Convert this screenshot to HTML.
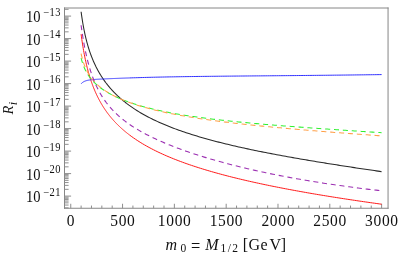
<!DOCTYPE html>
<html>
<head>
<meta charset="utf-8">
<title>plot</title>
<style>
html,body{margin:0;padding:0;background:#ffffff;}
body{width:399px;height:255px;overflow:hidden;font-family:"Liberation Serif",serif;}
svg{display:block;position:absolute;left:0;top:0;will-change:transform;}
text{font-family:"Liberation Serif",serif;fill:#111111;}
</style>
</head>
<body>
<svg width="399" height="255" viewBox="0 0 399 255">
<rect x="0" y="0" width="399" height="255" fill="#ffffff"/>
<g id="plot">
<path d="M64.5,8.0H388.05M388.05,8.0V208.25M64.5,208.25H388.05M64.5,8.0V208.25" fill="none" stroke="#868686" stroke-width="1" stroke-linecap="square"/>
<path d="M70.75,208.25V203.75M81.11,208.25V205.55M91.47,208.25V205.55M101.84,208.25V205.55M112.20,208.25V205.55M122.56,208.25V203.75M132.92,208.25V205.55M143.28,208.25V205.55M153.65,208.25V205.55M164.01,208.25V205.55M174.37,208.25V203.75M184.73,208.25V205.55M195.09,208.25V205.55M205.46,208.25V205.55M215.82,208.25V205.55M226.18,208.25V203.75M236.54,208.25V205.55M246.90,208.25V205.55M257.27,208.25V205.55M267.63,208.25V205.55M277.99,208.25V203.75M288.35,208.25V205.55M298.71,208.25V205.55M309.08,208.25V205.55M319.44,208.25V205.55M329.80,208.25V203.75M340.16,208.25V205.55M350.52,208.25V205.55M360.89,208.25V205.55M371.25,208.25V205.55M381.61,208.25V203.75M64.5,207.86H68.60M64.5,205.05H68.60M64.5,202.87H68.60M64.5,201.09H68.60M64.5,199.59H68.60M64.5,198.28H68.60M64.5,197.13H68.60M64.5,196.10H71.10M64.5,189.33H68.60M64.5,185.36H68.60M64.5,182.55H68.60M64.5,180.37H68.60M64.5,178.59H68.60M64.5,177.09H68.60M64.5,175.78H68.60M64.5,174.63H68.60M64.5,173.60H71.10M64.5,166.83H68.60M64.5,162.86H68.60M64.5,160.05H68.60M64.5,157.87H68.60M64.5,156.09H68.60M64.5,154.59H68.60M64.5,153.28H68.60M64.5,152.13H68.60M64.5,151.10H71.10M64.5,144.33H68.60M64.5,140.36H68.60M64.5,137.55H68.60M64.5,135.37H68.60M64.5,133.59H68.60M64.5,132.09H68.60M64.5,130.78H68.60M64.5,129.63H68.60M64.5,128.60H71.10M64.5,121.83H68.60M64.5,117.86H68.60M64.5,115.05H68.60M64.5,112.87H68.60M64.5,111.09H68.60M64.5,109.59H68.60M64.5,108.28H68.60M64.5,107.13H68.60M64.5,106.10H71.10M64.5,99.33H68.60M64.5,95.36H68.60M64.5,92.55H68.60M64.5,90.37H68.60M64.5,88.59H68.60M64.5,87.09H68.60M64.5,85.78H68.60M64.5,84.63H68.60M64.5,83.60H71.10M64.5,76.83H68.60M64.5,72.86H68.60M64.5,70.05H68.60M64.5,67.87H68.60M64.5,66.09H68.60M64.5,64.59H68.60M64.5,63.28H68.60M64.5,62.13H68.60M64.5,61.10H71.10M64.5,54.33H68.60M64.5,50.36H68.60M64.5,47.55H68.60M64.5,45.37H68.60M64.5,43.59H68.60M64.5,42.09H68.60M64.5,40.78H68.60M64.5,39.63H68.60M64.5,38.60H71.10M64.5,31.83H68.60M64.5,27.86H68.60M64.5,25.05H68.60M64.5,22.87H68.60M64.5,21.09H68.60M64.5,19.59H68.60M64.5,18.28H68.60M64.5,17.13H68.60M64.5,16.10H71.10M64.5,9.33H68.60" fill="none" stroke="#8e8e8e" stroke-width="1"/>
<path d="M81.11,11.78 L81.46,14.37 L81.82,16.83 L82.17,19.16 L82.52,21.37 L82.87,23.48 L83.22,25.49 L83.57,27.41 L83.93,29.24 L84.28,31.00 L84.63,32.69 L84.98,34.32 L85.33,35.88 L85.68,37.38 L86.04,38.83 L86.39,40.23 L86.74,41.59 L87.09,42.90 L87.44,44.17 L87.79,45.40 L88.15,46.59 L88.50,47.75 L88.85,48.88 L89.20,49.98 L89.55,51.04 L89.90,52.08 L90.26,53.09 L90.61,54.08 L90.96,55.04 L91.31,55.98 L91.66,56.90 L92.02,57.79 L92.37,58.67 L92.72,59.53 L93.07,60.37 L93.42,61.19 L93.77,61.99 L94.13,62.78 L94.48,63.55 L94.83,64.31 L95.18,65.05 L95.53,65.78 L95.88,66.50 L96.24,67.20 L96.59,67.89 L96.94,68.57 L97.29,69.24 L97.64,69.90 L97.99,70.54 L98.35,71.17 L98.70,71.80 L99.05,72.41 L99.40,73.02 L99.75,73.61 L100.10,74.20 L100.46,74.78 L100.81,75.35 L101.16,75.91 L101.51,76.46 L101.86,77.01 L102.21,77.54 L102.57,78.07 L102.92,78.60 L103.27,79.11 L103.62,79.62 L103.97,80.12 L104.33,80.62 L104.68,81.11 L105.03,81.59 L105.38,82.07 L105.73,82.54 L106.08,83.01 L106.44,83.47 L106.79,83.92 L107.14,84.37 L107.49,84.82 L107.84,85.26 L108.19,85.69 L108.55,86.12 L108.90,86.54 L109.25,86.96 L109.60,87.38 L109.95,87.79 L110.30,88.20 L110.66,88.60 L111.01,89.00 L111.36,89.39 L111.71,89.78 L112.06,90.17 L112.41,90.55 L112.77,90.93 L113.12,91.30 L113.47,91.67 L113.82,92.04 L114.17,92.40 L114.52,92.76 L114.88,93.12 L115.23,93.47 L115.58,93.82 L115.93,94.17 L116.28,94.51 L116.63,94.85 L116.99,95.19 L117.34,95.52 L117.69,95.86 L118.04,96.18 L118.39,96.51 L118.75,96.83 L119.10,97.15 L119.45,97.47 L119.80,97.79 L120.15,98.10 L120.50,98.41 L120.86,98.71 L121.21,99.02 L121.56,99.32 L121.91,99.62 L122.26,99.92 L122.61,100.21 L122.97,100.50 L123.32,100.79 L123.67,101.08 L124.02,101.37 L124.37,101.65 L124.72,101.93 L125.08,102.21 L125.43,102.49 L125.78,102.76 L126.13,103.03 L126.48,103.31 L126.83,103.57 L127.19,103.84 L127.54,104.11 L127.89,104.37 L128.24,104.63 L128.59,104.89 L128.94,105.15 L129.30,105.40 L129.65,105.66 L130.00,105.91 L131.81,107.18 L133.62,108.41 L135.43,109.59 L137.24,110.74 L139.05,111.85 L140.86,112.93 L142.67,113.98 L144.48,115.00 L146.29,115.99 L148.10,116.95 L149.91,117.88 L151.72,118.79 L153.53,119.68 L155.34,120.55 L157.15,121.39 L158.96,122.22 L160.77,123.02 L162.58,123.81 L164.39,124.58 L166.20,125.33 L168.01,126.07 L169.82,126.79 L171.63,127.50 L173.44,128.19 L175.25,128.87 L177.06,129.53 L178.87,130.19 L180.68,130.83 L182.49,131.46 L184.30,132.07 L186.11,132.68 L187.92,133.28 L189.73,133.86 L191.54,134.44 L193.36,135.01 L195.17,135.57 L196.98,136.12 L198.79,136.66 L200.60,137.19 L202.41,137.72 L204.22,138.23 L206.03,138.74 L207.84,139.25 L209.65,139.74 L211.46,140.23 L213.27,140.71 L215.08,141.19 L216.89,141.66 L218.70,142.13 L220.51,142.58 L222.32,143.04 L224.13,143.48 L225.94,143.93 L227.75,144.36 L229.56,144.80 L231.37,145.22 L233.18,145.65 L234.99,146.06 L236.80,146.48 L238.61,146.89 L240.42,147.29 L242.23,147.69 L244.04,148.09 L245.85,148.49 L247.66,148.87 L249.47,149.26 L251.28,149.64 L253.09,150.02 L254.90,150.40 L256.71,150.77 L258.52,151.14 L260.33,151.51 L262.14,151.87 L263.95,152.23 L265.76,152.59 L267.57,152.94 L269.38,153.29 L271.19,153.64 L273.00,153.99 L274.81,154.33 L276.62,154.67 L278.43,155.01 L280.24,155.35 L282.05,155.68 L283.86,156.01 L285.67,156.34 L287.48,156.67 L289.29,156.99 L291.10,157.32 L292.91,157.64 L294.72,157.96 L296.53,158.27 L298.34,158.59 L300.15,158.90 L301.96,159.22 L303.77,159.53 L305.58,159.83 L307.39,160.14 L309.20,160.45 L311.01,160.75 L312.82,161.05 L314.63,161.35 L316.44,161.65 L318.25,161.95 L320.07,162.25 L321.88,162.54 L323.69,162.83 L325.50,163.13 L327.31,163.42 L329.12,163.71 L330.93,163.99 L332.74,164.28 L334.55,164.57 L336.36,164.85 L338.17,165.13 L339.98,165.42 L341.79,165.70 L343.60,165.98 L345.41,166.26 L347.22,166.54 L349.03,166.81 L350.84,167.09 L352.65,167.36 L354.46,167.64 L356.27,167.91 L358.08,168.18 L359.89,168.45 L361.70,168.73 L363.51,169.00 L365.32,169.26 L367.13,169.53 L368.94,169.80 L370.75,170.07 L372.56,170.33 L374.37,170.60 L376.18,170.86 L377.99,171.12 L379.80,171.39 L381.61,171.65" fill="none" stroke="#282828" stroke-width="1.05"/>
<path d="M81.11,34.16 L81.46,36.83 L81.82,39.36 L82.17,41.79 L82.52,44.10 L82.87,46.31 L83.22,48.44 L83.57,50.47 L83.93,52.43 L84.28,54.31 L84.63,56.13 L84.98,57.88 L85.33,59.56 L85.68,61.19 L86.04,62.77 L86.39,64.29 L86.74,65.77 L87.09,67.20 L87.44,68.59 L87.79,69.94 L88.15,71.25 L88.50,72.52 L88.85,73.76 L89.20,74.96 L89.55,76.13 L89.90,77.28 L90.26,78.39 L90.61,79.48 L90.96,80.54 L91.31,81.57 L91.66,82.58 L92.02,83.57 L92.37,84.54 L92.72,85.48 L93.07,86.40 L93.42,87.31 L93.77,88.19 L94.13,89.06 L94.48,89.91 L94.83,90.74 L95.18,91.56 L95.53,92.36 L95.88,93.14 L96.24,93.92 L96.59,94.67 L96.94,95.42 L97.29,96.15 L97.64,96.86 L97.99,97.57 L98.35,98.26 L98.70,98.94 L99.05,99.61 L99.40,100.27 L99.75,100.92 L100.10,101.56 L100.46,102.19 L100.81,102.80 L101.16,103.41 L101.51,104.01 L101.86,104.60 L102.21,105.19 L102.57,105.76 L102.92,106.33 L103.27,106.89 L103.62,107.44 L103.97,107.98 L104.33,108.51 L104.68,109.04 L105.03,109.56 L105.38,110.08 L105.73,110.58 L106.08,111.09 L106.44,111.58 L106.79,112.07 L107.14,112.55 L107.49,113.03 L107.84,113.50 L108.19,113.96 L108.55,114.42 L108.90,114.88 L109.25,115.33 L109.60,115.77 L109.95,116.21 L110.30,116.64 L110.66,117.07 L111.01,117.50 L111.36,117.92 L111.71,118.33 L112.06,118.74 L112.41,119.15 L112.77,119.55 L113.12,119.95 L113.47,120.34 L113.82,120.73 L114.17,121.12 L114.52,121.50 L114.88,121.88 L115.23,122.25 L115.58,122.62 L115.93,122.99 L116.28,123.35 L116.63,123.71 L116.99,124.07 L117.34,124.42 L117.69,124.77 L118.04,125.12 L118.39,125.47 L118.75,125.81 L119.10,126.14 L119.45,126.48 L119.80,126.81 L120.15,127.14 L120.50,127.47 L120.86,127.79 L121.21,128.11 L121.56,128.43 L121.91,128.74 L122.26,129.06 L122.61,129.37 L122.97,129.67 L123.32,129.98 L123.67,130.28 L124.02,130.58 L124.37,130.88 L124.72,131.17 L125.08,131.47 L125.43,131.76 L125.78,132.05 L126.13,132.33 L126.48,132.62 L126.83,132.90 L127.19,133.18 L127.54,133.46 L127.89,133.73 L128.24,134.01 L128.59,134.28 L128.94,134.55 L129.30,134.82 L129.65,135.08 L130.00,135.35 L131.81,136.68 L133.62,137.96 L135.43,139.20 L137.24,140.41 L139.05,141.57 L140.86,142.70 L142.67,143.80 L144.48,144.86 L146.29,145.90 L148.10,146.91 L149.91,147.89 L151.72,148.84 L153.53,149.78 L155.34,150.69 L157.15,151.57 L158.96,152.44 L160.77,153.29 L162.58,154.12 L164.39,154.93 L166.20,155.72 L168.01,156.50 L169.82,157.26 L171.63,158.01 L173.44,158.74 L175.25,159.46 L177.06,160.17 L178.87,160.86 L180.68,161.54 L182.49,162.21 L184.30,162.87 L186.11,163.52 L187.92,164.15 L189.73,164.78 L191.54,165.39 L193.36,166.00 L195.17,166.59 L196.98,167.18 L198.79,167.76 L200.60,168.33 L202.41,168.89 L204.22,169.45 L206.03,169.99 L207.84,170.53 L209.65,171.06 L211.46,171.59 L213.27,172.11 L215.08,172.62 L216.89,173.12 L218.70,173.62 L220.51,174.11 L222.32,174.60 L224.13,175.08 L225.94,175.55 L227.75,176.02 L229.56,176.49 L231.37,176.95 L233.18,177.40 L234.99,177.85 L236.80,178.29 L238.61,178.73 L240.42,179.17 L242.23,179.60 L244.04,180.02 L245.85,180.44 L247.66,180.86 L249.47,181.27 L251.28,181.68 L253.09,182.09 L254.90,182.49 L256.71,182.89 L258.52,183.28 L260.33,183.67 L262.14,184.06 L263.95,184.44 L265.76,184.82 L267.57,185.20 L269.38,185.57 L271.19,185.94 L273.00,186.31 L274.81,186.67 L276.62,187.03 L278.43,187.39 L280.24,187.74 L282.05,188.09 L283.86,188.44 L285.67,188.79 L287.48,189.13 L289.29,189.47 L291.10,189.81 L292.91,190.15 L294.72,190.48 L296.53,190.81 L298.34,191.14 L300.15,191.47 L301.96,191.79 L303.77,192.11 L305.58,192.43 L307.39,192.75 L309.20,193.07 L311.01,193.38 L312.82,193.69 L314.63,194.00 L316.44,194.30 L318.25,194.61 L320.07,194.91 L321.88,195.21 L323.69,195.51 L325.50,195.81 L327.31,196.10 L329.12,196.40 L330.93,196.69 L332.74,196.98 L334.55,197.27 L336.36,197.55 L338.17,197.84 L339.98,198.12 L341.79,198.40 L343.60,198.68 L345.41,198.96 L347.22,199.23 L349.03,199.51 L350.84,199.78 L352.65,200.05 L354.46,200.32 L356.27,200.59 L358.08,200.86 L359.89,201.13 L361.70,201.39 L363.51,201.65 L365.32,201.91 L367.13,202.17 L368.94,202.43 L370.75,202.69 L372.56,202.95 L374.37,203.20 L376.18,203.46 L377.99,203.71 L379.80,203.96 L381.61,204.21" fill="none" stroke="#ff1a1a" stroke-width="1.0"/>
<path d="M81.11,83.82 L81.46,83.43 L81.82,83.08 L82.17,82.77 L82.52,82.49 L82.87,82.23 L83.22,82.00 L83.57,81.79 L83.93,81.60 L84.28,81.43 L84.63,81.27 L84.98,81.12 L85.33,80.99 L85.68,80.86 L86.04,80.75 L86.39,80.65 L86.74,80.55 L87.09,80.46 L87.44,80.38 L87.79,80.30 L88.15,80.23 L88.50,80.16 L88.85,80.10 L89.20,80.04 L89.55,79.99 L89.90,79.94 L90.26,79.89 L90.61,79.84 L90.96,79.80 L91.31,79.76 L91.66,79.72 L92.02,79.68 L92.37,79.65 L92.72,79.61 L93.07,79.58 L93.42,79.55 L93.77,79.52 L94.13,79.49 L94.48,79.47 L94.83,79.44 L95.18,79.41 L95.53,79.39 L95.88,79.36 L96.24,79.34 L96.59,79.32 L96.94,79.30 L97.29,79.28 L97.64,79.25 L97.99,79.23 L98.35,79.21 L98.70,79.19 L99.05,79.17 L99.40,79.16 L99.75,79.14 L100.10,79.12 L100.46,79.10 L100.81,79.08 L101.16,79.07 L101.51,79.05 L101.86,79.03 L102.21,79.01 L102.57,79.00 L102.92,78.98 L103.27,78.96 L103.62,78.95 L103.97,78.93 L104.33,78.92 L104.68,78.90 L105.03,78.88 L105.38,78.87 L105.73,78.85 L106.08,78.84 L106.44,78.82 L106.79,78.81 L107.14,78.79 L107.49,78.77 L107.84,78.76 L108.19,78.74 L108.55,78.73 L108.90,78.71 L109.25,78.70 L109.60,78.68 L109.95,78.67 L110.30,78.66 L110.66,78.64 L111.01,78.63 L111.36,78.61 L111.71,78.60 L112.06,78.58 L112.41,78.57 L112.77,78.55 L113.12,78.54 L113.47,78.53 L113.82,78.51 L114.17,78.50 L114.52,78.48 L114.88,78.47 L115.23,78.45 L115.58,78.44 L115.93,78.43 L116.28,78.41 L116.63,78.40 L116.99,78.39 L117.34,78.37 L117.69,78.36 L118.04,78.34 L118.39,78.33 L118.75,78.32 L119.10,78.30 L119.45,78.29 L119.80,78.28 L120.15,78.26 L120.50,78.25 L120.86,78.24 L121.21,78.22 L121.56,78.21 L121.91,78.20 L122.26,78.19 L122.61,78.17 L122.97,78.16 L123.32,78.15 L123.67,78.13 L124.02,78.12 L124.37,78.11 L124.72,78.10 L125.08,78.08 L125.43,78.07 L125.78,78.06 L126.13,78.05 L126.48,78.03 L126.83,78.02 L127.19,78.01 L127.54,78.00 L127.89,77.98 L128.24,77.97 L128.59,77.96 L128.94,77.95 L129.30,77.94 L129.65,77.92 L130.00,77.91 L131.81,77.85 L133.62,77.79 L135.43,77.74 L137.24,77.68 L139.05,77.63 L140.86,77.57 L142.67,77.52 L144.48,77.47 L146.29,77.42 L148.10,77.37 L149.91,77.33 L151.72,77.28 L153.53,77.24 L155.34,77.20 L157.15,77.15 L158.96,77.11 L160.77,77.07 L162.58,77.04 L164.39,77.00 L166.20,76.96 L168.01,76.93 L169.82,76.89 L171.63,76.86 L173.44,76.83 L175.25,76.80 L177.06,76.77 L178.87,76.74 L180.68,76.71 L182.49,76.68 L184.30,76.65 L186.11,76.62 L187.92,76.60 L189.73,76.57 L191.54,76.55 L193.36,76.52 L195.17,76.50 L196.98,76.48 L198.79,76.45 L200.60,76.43 L202.41,76.41 L204.22,76.39 L206.03,76.37 L207.84,76.35 L209.65,76.33 L211.46,76.31 L213.27,76.29 L215.08,76.27 L216.89,76.25 L218.70,76.23 L220.51,76.21 L222.32,76.20 L224.13,76.18 L225.94,76.16 L227.75,76.14 L229.56,76.13 L231.37,76.11 L233.18,76.09 L234.99,76.08 L236.80,76.06 L238.61,76.05 L240.42,76.03 L242.23,76.01 L244.04,76.00 L245.85,75.98 L247.66,75.97 L249.47,75.95 L251.28,75.94 L253.09,75.92 L254.90,75.91 L256.71,75.89 L258.52,75.88 L260.33,75.86 L262.14,75.85 L263.95,75.83 L265.76,75.82 L267.57,75.80 L269.38,75.79 L271.19,75.77 L273.00,75.75 L274.81,75.74 L276.62,75.72 L278.43,75.71 L280.24,75.69 L282.05,75.68 L283.86,75.66 L285.67,75.65 L287.48,75.63 L289.29,75.61 L291.10,75.60 L292.91,75.58 L294.72,75.57 L296.53,75.55 L298.34,75.53 L300.15,75.52 L301.96,75.50 L303.77,75.48 L305.58,75.47 L307.39,75.45 L309.20,75.43 L311.01,75.41 L312.82,75.40 L314.63,75.38 L316.44,75.36 L318.25,75.34 L320.07,75.32 L321.88,75.31 L323.69,75.29 L325.50,75.27 L327.31,75.25 L329.12,75.23 L330.93,75.21 L332.74,75.19 L334.55,75.17 L336.36,75.15 L338.17,75.13 L339.98,75.11 L341.79,75.09 L343.60,75.07 L345.41,75.05 L347.22,75.03 L349.03,75.01 L350.84,74.99 L352.65,74.97 L354.46,74.94 L356.27,74.92 L358.08,74.90 L359.89,74.88 L361.70,74.85 L363.51,74.83 L365.32,74.81 L367.13,74.78 L368.94,74.76 L370.75,74.74 L372.56,74.71 L374.37,74.69 L376.18,74.66 L377.99,74.64 L379.80,74.61 L381.61,74.59" fill="none" stroke="#3030ff" stroke-width="1.0"/>
<path d="M81.11,58.11 L81.46,59.45 L81.82,60.70 L82.17,61.88 L82.52,62.98 L82.87,64.03 L83.22,65.01 L83.57,65.95 L83.93,66.83 L84.28,67.68 L84.63,68.48 L84.98,69.25 L85.33,69.99 L85.68,70.69 L86.04,71.37 L86.39,72.02 L86.74,72.65 L87.09,73.26 L87.44,73.84 L87.79,74.40 L88.15,74.95 L88.50,75.48 L88.85,75.99 L89.20,76.49 L89.55,76.97 L89.90,77.44 L90.26,77.90 L90.61,78.35 L90.96,78.78 L91.31,79.21 L91.66,79.62 L92.02,80.03 L92.37,80.42 L92.72,80.81 L93.07,81.19 L93.42,81.56 L93.77,81.92 L94.13,82.28 L94.48,82.63 L94.83,82.97 L95.18,83.30 L95.53,83.63 L95.88,83.96 L96.24,84.28 L96.59,84.59 L96.94,84.90 L97.29,85.20 L97.64,85.50 L97.99,85.79 L98.35,86.08 L98.70,86.36 L99.05,86.64 L99.40,86.92 L99.75,87.19 L100.10,87.46 L100.46,87.73 L100.81,87.99 L101.16,88.25 L101.51,88.50 L101.86,88.75 L102.21,89.00 L102.57,89.24 L102.92,89.48 L103.27,89.72 L103.62,89.96 L103.97,90.19 L104.33,90.42 L104.68,90.65 L105.03,90.87 L105.38,91.10 L105.73,91.32 L106.08,91.53 L106.44,91.75 L106.79,91.96 L107.14,92.17 L107.49,92.38 L107.84,92.59 L108.19,92.79 L108.55,92.99 L108.90,93.19 L109.25,93.39 L109.60,93.59 L109.95,93.78 L110.30,93.97 L110.66,94.16 L111.01,94.35 L111.36,94.54 L111.71,94.72 L112.06,94.90 L112.41,95.09 L112.77,95.27 L113.12,95.44 L113.47,95.62 L113.82,95.80 L114.17,95.97 L114.52,96.14 L114.88,96.31 L115.23,96.48 L115.58,96.65 L115.93,96.81 L116.28,96.98 L116.63,97.14 L116.99,97.30 L117.34,97.46 L117.69,97.62 L118.04,97.78 L118.39,97.94 L118.75,98.09 L119.10,98.25 L119.45,98.40 L119.80,98.55 L120.15,98.70 L120.50,98.85 L120.86,99.00 L121.21,99.15 L121.56,99.29 L121.91,99.44 L122.26,99.58 L122.61,99.73 L122.97,99.87 L123.32,100.01 L123.67,100.15 L124.02,100.29 L124.37,100.42 L124.72,100.56 L125.08,100.70 L125.43,100.83 L125.78,100.96 L126.13,101.10 L126.48,101.23 L126.83,101.36 L127.19,101.49 L127.54,101.62 L127.89,101.75 L128.24,101.87 L128.59,102.00 L128.94,102.13 L129.30,102.25 L129.65,102.37 L130.00,102.50 L131.81,103.12 L133.62,103.72 L135.43,104.30 L137.24,104.86 L139.05,105.40 L140.86,105.93 L142.67,106.44 L144.48,106.94 L146.29,107.42 L148.10,107.89 L149.91,108.35 L151.72,108.79 L153.53,109.23 L155.34,109.65 L157.15,110.06 L158.96,110.46 L160.77,110.85 L162.58,111.23 L164.39,111.60 L166.20,111.96 L168.01,112.31 L169.82,112.66 L171.63,113.00 L173.44,113.33 L175.25,113.65 L177.06,113.97 L178.87,114.28 L180.68,114.58 L182.49,114.88 L184.30,115.17 L186.11,115.46 L187.92,115.74 L189.73,116.01 L191.54,116.28 L193.36,116.54 L195.17,116.80 L196.98,117.06 L198.79,117.31 L200.60,117.55 L202.41,117.80 L204.22,118.03 L206.03,118.27 L207.84,118.50 L209.65,118.72 L211.46,118.95 L213.27,119.16 L215.08,119.38 L216.89,119.59 L218.70,119.80 L220.51,120.01 L222.32,120.21 L224.13,120.41 L225.94,120.61 L227.75,120.81 L229.56,121.00 L231.37,121.19 L233.18,121.38 L234.99,121.56 L236.80,121.75 L238.61,121.93 L240.42,122.11 L242.23,122.28 L244.04,122.46 L245.85,122.63 L247.66,122.80 L249.47,122.97 L251.28,123.14 L253.09,123.30 L254.90,123.47 L256.71,123.63 L258.52,123.79 L260.33,123.95 L262.14,124.11 L263.95,124.26 L265.76,124.42 L267.57,124.57 L269.38,124.72 L271.19,124.87 L273.00,125.02 L274.81,125.17 L276.62,125.32 L278.43,125.46 L280.24,125.61 L282.05,125.75 L283.86,125.90 L285.67,126.04 L287.48,126.18 L289.29,126.32 L291.10,126.46 L292.91,126.60 L294.72,126.73 L296.53,126.87 L298.34,127.00 L300.15,127.14 L301.96,127.27 L303.77,127.41 L305.58,127.54 L307.39,127.67 L309.20,127.80 L311.01,127.93 L312.82,128.06 L314.63,128.19 L316.44,128.32 L318.25,128.45 L320.07,128.58 L321.88,128.70 L323.69,128.83 L325.50,128.96 L327.31,129.08 L329.12,129.21 L330.93,129.33 L332.74,129.46 L334.55,129.58 L336.36,129.70 L338.17,129.83 L339.98,129.95 L341.79,130.07 L343.60,130.19 L345.41,130.31 L347.22,130.44 L349.03,130.56 L350.84,130.68 L352.65,130.80 L354.46,130.92 L356.27,131.04 L358.08,131.16 L359.89,131.28 L361.70,131.40 L363.51,131.52 L365.32,131.63 L367.13,131.75 L368.94,131.87 L370.75,131.99 L372.56,132.11 L374.37,132.22 L376.18,132.34 L377.99,132.46 L379.80,132.58 L381.61,132.69" fill="none" stroke="#30f030" stroke-width="1.05" stroke-dasharray="5.05 3.84"/>
<path d="M81.11,53.71 L81.46,55.27 L81.82,56.73 L82.17,58.09 L82.52,59.38 L82.87,60.60 L83.22,61.74 L83.57,62.83 L83.93,63.86 L84.28,64.84 L84.63,65.77 L84.98,66.67 L85.33,67.52 L85.68,68.33 L86.04,69.11 L86.39,69.86 L86.74,70.58 L87.09,71.27 L87.44,71.94 L87.79,72.58 L88.15,73.21 L88.50,73.81 L88.85,74.39 L89.20,74.95 L89.55,75.50 L89.90,76.03 L90.26,76.54 L90.61,77.04 L90.96,77.53 L91.31,78.01 L91.66,78.47 L92.02,78.92 L92.37,79.36 L92.72,79.78 L93.07,80.20 L93.42,80.61 L93.77,81.01 L94.13,81.40 L94.48,81.79 L94.83,82.16 L95.18,82.53 L95.53,82.89 L95.88,83.24 L96.24,83.59 L96.59,83.93 L96.94,84.26 L97.29,84.59 L97.64,84.91 L97.99,85.23 L98.35,85.54 L98.70,85.84 L99.05,86.14 L99.40,86.44 L99.75,86.73 L100.10,87.02 L100.46,87.30 L100.81,87.58 L101.16,87.85 L101.51,88.12 L101.86,88.39 L102.21,88.65 L102.57,88.91 L102.92,89.17 L103.27,89.42 L103.62,89.67 L103.97,89.91 L104.33,90.16 L104.68,90.40 L105.03,90.63 L105.38,90.87 L105.73,91.10 L106.08,91.33 L106.44,91.55 L106.79,91.78 L107.14,92.00 L107.49,92.21 L107.84,92.43 L108.19,92.64 L108.55,92.85 L108.90,93.06 L109.25,93.27 L109.60,93.47 L109.95,93.68 L110.30,93.88 L110.66,94.07 L111.01,94.27 L111.36,94.46 L111.71,94.66 L112.06,94.85 L112.41,95.04 L112.77,95.22 L113.12,95.41 L113.47,95.59 L113.82,95.77 L114.17,95.95 L114.52,96.13 L114.88,96.31 L115.23,96.48 L115.58,96.66 L115.93,96.83 L116.28,97.00 L116.63,97.17 L116.99,97.33 L117.34,97.50 L117.69,97.67 L118.04,97.83 L118.39,97.99 L118.75,98.15 L119.10,98.31 L119.45,98.47 L119.80,98.63 L120.15,98.78 L120.50,98.94 L120.86,99.09 L121.21,99.24 L121.56,99.39 L121.91,99.54 L122.26,99.69 L122.61,99.84 L122.97,99.99 L123.32,100.13 L123.67,100.27 L124.02,100.42 L124.37,100.56 L124.72,100.70 L125.08,100.84 L125.43,100.98 L125.78,101.12 L126.13,101.26 L126.48,101.39 L126.83,101.53 L127.19,101.66 L127.54,101.79 L127.89,101.93 L128.24,102.06 L128.59,102.19 L128.94,102.32 L129.30,102.45 L129.65,102.58 L130.00,102.70 L131.81,103.35 L133.62,103.97 L135.43,104.57 L137.24,105.15 L139.05,105.72 L140.86,106.27 L142.67,106.80 L144.48,107.32 L146.29,107.83 L148.10,108.32 L149.91,108.80 L151.72,109.27 L153.53,109.72 L155.34,110.17 L157.15,110.60 L158.96,111.02 L160.77,111.44 L162.58,111.84 L164.39,112.24 L166.20,112.62 L168.01,113.00 L169.82,113.37 L171.63,113.74 L173.44,114.09 L175.25,114.44 L177.06,114.78 L178.87,115.12 L180.68,115.45 L182.49,115.77 L184.30,116.09 L186.11,116.40 L187.92,116.70 L189.73,117.00 L191.54,117.30 L193.36,117.59 L195.17,117.87 L196.98,118.16 L198.79,118.43 L200.60,118.70 L202.41,118.97 L204.22,119.24 L206.03,119.50 L207.84,119.75 L209.65,120.01 L211.46,120.25 L213.27,120.50 L215.08,120.74 L216.89,120.98 L218.70,121.22 L220.51,121.45 L222.32,121.68 L224.13,121.90 L225.94,122.13 L227.75,122.35 L229.56,122.57 L231.37,122.78 L233.18,123.00 L234.99,123.21 L236.80,123.42 L238.61,123.62 L240.42,123.82 L242.23,124.03 L244.04,124.23 L245.85,124.42 L247.66,124.62 L249.47,124.81 L251.28,125.00 L253.09,125.19 L254.90,125.38 L256.71,125.57 L258.52,125.75 L260.33,125.93 L262.14,126.12 L263.95,126.29 L265.76,126.47 L267.57,126.65 L269.38,126.82 L271.19,127.00 L273.00,127.17 L274.81,127.34 L276.62,127.51 L278.43,127.68 L280.24,127.84 L282.05,128.01 L283.86,128.17 L285.67,128.34 L287.48,128.50 L289.29,128.66 L291.10,128.82 L292.91,128.98 L294.72,129.14 L296.53,129.30 L298.34,129.45 L300.15,129.61 L301.96,129.76 L303.77,129.91 L305.58,130.07 L307.39,130.22 L309.20,130.37 L311.01,130.52 L312.82,130.67 L314.63,130.81 L316.44,130.96 L318.25,131.11 L320.07,131.25 L321.88,131.40 L323.69,131.54 L325.50,131.69 L327.31,131.83 L329.12,131.97 L330.93,132.12 L332.74,132.26 L334.55,132.40 L336.36,132.54 L338.17,132.68 L339.98,132.82 L341.79,132.96 L343.60,133.09 L345.41,133.23 L347.22,133.37 L349.03,133.51 L350.84,133.64 L352.65,133.78 L354.46,133.91 L356.27,134.05 L358.08,134.18 L359.89,134.32 L361.70,134.45 L363.51,134.58 L365.32,134.72 L367.13,134.85 L368.94,134.98 L370.75,135.11 L372.56,135.24 L374.37,135.37 L376.18,135.50 L377.99,135.64 L379.80,135.77 L381.61,135.90" fill="none" stroke="#ffa048" stroke-width="1.05" stroke-dasharray="5.055 3.845"/>
<path d="M81.11,25.24 L81.46,27.84 L81.82,30.33 L82.17,32.73 L82.52,35.03 L82.87,37.25 L83.22,39.39 L83.57,41.44 L83.93,43.43 L84.28,45.34 L84.63,47.19 L84.98,48.97 L85.33,50.70 L85.68,52.37 L86.04,53.98 L86.39,55.55 L86.74,57.07 L87.09,58.53 L87.44,59.96 L87.79,61.34 L88.15,62.69 L88.50,63.99 L88.85,65.26 L89.20,66.49 L89.55,67.69 L89.90,68.86 L90.26,70.00 L90.61,71.11 L90.96,72.18 L91.31,73.24 L91.66,74.26 L92.02,75.26 L92.37,76.24 L92.72,77.20 L93.07,78.13 L93.42,79.04 L93.77,79.93 L94.13,80.80 L94.48,81.65 L94.83,82.48 L95.18,83.30 L95.53,84.09 L95.88,84.88 L96.24,85.64 L96.59,86.39 L96.94,87.13 L97.29,87.85 L97.64,88.55 L97.99,89.25 L98.35,89.93 L98.70,90.59 L99.05,91.25 L99.40,91.89 L99.75,92.53 L100.10,93.15 L100.46,93.76 L100.81,94.36 L101.16,94.95 L101.51,95.53 L101.86,96.10 L102.21,96.66 L102.57,97.21 L102.92,97.75 L103.27,98.29 L103.62,98.81 L103.97,99.33 L104.33,99.84 L104.68,100.35 L105.03,100.84 L105.38,101.33 L105.73,101.81 L106.08,102.29 L106.44,102.76 L106.79,103.22 L107.14,103.67 L107.49,104.12 L107.84,104.56 L108.19,105.00 L108.55,105.43 L108.90,105.86 L109.25,106.28 L109.60,106.70 L109.95,107.11 L110.30,107.51 L110.66,107.91 L111.01,108.31 L111.36,108.70 L111.71,109.08 L112.06,109.46 L112.41,109.84 L112.77,110.21 L113.12,110.58 L113.47,110.95 L113.82,111.31 L114.17,111.67 L114.52,112.02 L114.88,112.37 L115.23,112.71 L115.58,113.05 L115.93,113.39 L116.28,113.73 L116.63,114.06 L116.99,114.39 L117.34,114.71 L117.69,115.03 L118.04,115.35 L118.39,115.67 L118.75,115.98 L119.10,116.29 L119.45,116.60 L119.80,116.90 L120.15,117.20 L120.50,117.50 L120.86,117.80 L121.21,118.09 L121.56,118.38 L121.91,118.67 L122.26,118.96 L122.61,119.24 L122.97,119.52 L123.32,119.80 L123.67,120.08 L124.02,120.35 L124.37,120.62 L124.72,120.89 L125.08,121.16 L125.43,121.42 L125.78,121.69 L126.13,121.95 L126.48,122.21 L126.83,122.47 L127.19,122.72 L127.54,122.97 L127.89,123.23 L128.24,123.48 L128.59,123.72 L128.94,123.97 L129.30,124.22 L129.65,124.46 L130.00,124.70 L131.81,125.92 L133.62,127.09 L135.43,128.23 L137.24,129.33 L139.05,130.40 L140.86,131.44 L142.67,132.45 L144.48,133.43 L146.29,134.39 L148.10,135.33 L149.91,136.24 L151.72,137.13 L153.53,138.00 L155.34,138.86 L157.15,139.69 L158.96,140.51 L160.77,141.32 L162.58,142.10 L164.39,142.88 L166.20,143.63 L168.01,144.38 L169.82,145.11 L171.63,145.83 L173.44,146.54 L175.25,147.24 L177.06,147.92 L178.87,148.60 L180.68,149.26 L182.49,149.92 L184.30,150.56 L186.11,151.20 L187.92,151.83 L189.73,152.44 L191.54,153.05 L193.36,153.66 L195.17,154.25 L196.98,154.83 L198.79,155.41 L200.60,155.98 L202.41,156.55 L204.22,157.10 L206.03,157.65 L207.84,158.20 L209.65,158.73 L211.46,159.26 L213.27,159.79 L215.08,160.30 L216.89,160.81 L218.70,161.32 L220.51,161.82 L222.32,162.31 L224.13,162.80 L225.94,163.29 L227.75,163.76 L229.56,164.24 L231.37,164.70 L233.18,165.17 L234.99,165.62 L236.80,166.08 L238.61,166.53 L240.42,166.97 L242.23,167.41 L244.04,167.84 L245.85,168.27 L247.66,168.69 L249.47,169.11 L251.28,169.53 L253.09,169.94 L254.90,170.35 L256.71,170.75 L258.52,171.15 L260.33,171.55 L262.14,171.94 L263.95,172.33 L265.76,172.71 L267.57,173.09 L269.38,173.47 L271.19,173.84 L273.00,174.21 L274.81,174.57 L276.62,174.93 L278.43,175.29 L280.24,175.64 L282.05,175.99 L283.86,176.34 L285.67,176.69 L287.48,177.03 L289.29,177.36 L291.10,177.70 L292.91,178.03 L294.72,178.35 L296.53,178.68 L298.34,179.00 L300.15,179.32 L301.96,179.63 L303.77,179.94 L305.58,180.25 L307.39,180.56 L309.20,180.86 L311.01,181.16 L312.82,181.45 L314.63,181.75 L316.44,182.04 L318.25,182.33 L320.07,182.61 L321.88,182.89 L323.69,183.17 L325.50,183.45 L327.31,183.72 L329.12,184.00 L330.93,184.27 L332.74,184.53 L334.55,184.79 L336.36,185.06 L338.17,185.31 L339.98,185.57 L341.79,185.82 L343.60,186.07 L345.41,186.32 L347.22,186.57 L349.03,186.81 L350.84,187.05 L352.65,187.29 L354.46,187.52 L356.27,187.76 L358.08,187.99 L359.89,188.22 L361.70,188.44 L363.51,188.67 L365.32,188.89 L367.13,189.11 L368.94,189.33 L370.75,189.54 L372.56,189.75 L374.37,189.96 L376.18,190.17 L377.99,190.38 L379.80,190.58 L381.61,190.79" fill="none" stroke="#9c30b2" stroke-width="1.1" stroke-dasharray="5 3.8"/>
</g>
<g id="labels">
<text transform="translate(40.60,202.20) scale(0.97,1.126)" font-size="15" text-anchor="end">10</text>
<text transform="translate(43.40,196.10)" font-size="10.5">−</text>
<text transform="translate(49.62,195.70) scale(1.0,1.17)" font-size="10.5" letter-spacing="0.3">21</text>
<text transform="translate(40.60,179.70) scale(0.97,1.126)" font-size="15" text-anchor="end">10</text>
<text transform="translate(43.40,173.60)" font-size="10.5">−</text>
<text transform="translate(49.62,173.20) scale(1.0,1.17)" font-size="10.5" letter-spacing="0.3">20</text>
<text transform="translate(40.60,157.20) scale(0.97,1.126)" font-size="15" text-anchor="end">10</text>
<text transform="translate(43.40,151.10)" font-size="10.5">−</text>
<text transform="translate(49.62,150.70) scale(1.0,1.17)" font-size="10.5" letter-spacing="0.3">19</text>
<text transform="translate(40.60,134.70) scale(0.97,1.126)" font-size="15" text-anchor="end">10</text>
<text transform="translate(43.40,128.60)" font-size="10.5">−</text>
<text transform="translate(49.62,128.20) scale(1.0,1.17)" font-size="10.5" letter-spacing="0.3">18</text>
<text transform="translate(40.60,112.20) scale(0.97,1.126)" font-size="15" text-anchor="end">10</text>
<text transform="translate(43.40,106.10)" font-size="10.5">−</text>
<text transform="translate(49.62,105.70) scale(1.0,1.17)" font-size="10.5" letter-spacing="0.3">17</text>
<text transform="translate(40.60,89.70) scale(0.97,1.126)" font-size="15" text-anchor="end">10</text>
<text transform="translate(43.40,83.60)" font-size="10.5">−</text>
<text transform="translate(49.62,83.20) scale(1.0,1.17)" font-size="10.5" letter-spacing="0.3">16</text>
<text transform="translate(40.60,67.20) scale(0.97,1.126)" font-size="15" text-anchor="end">10</text>
<text transform="translate(43.40,61.10)" font-size="10.5">−</text>
<text transform="translate(49.62,60.70) scale(1.0,1.17)" font-size="10.5" letter-spacing="0.3">15</text>
<text transform="translate(40.60,44.70) scale(0.97,1.126)" font-size="15" text-anchor="end">10</text>
<text transform="translate(43.40,38.60)" font-size="10.5">−</text>
<text transform="translate(49.62,38.20) scale(1.0,1.17)" font-size="10.5" letter-spacing="0.3">14</text>
<text transform="translate(40.60,22.20) scale(0.97,1.126)" font-size="15" text-anchor="end">10</text>
<text transform="translate(43.40,16.10)" font-size="10.5">−</text>
<text transform="translate(49.62,15.70) scale(1.0,1.17)" font-size="10.5" letter-spacing="0.3">13</text>
<text transform="translate(71.03,225.60) scale(1.0,1.085)" font-size="15.5" text-anchor="middle" letter-spacing="0.66">0</text>
<text transform="translate(122.84,225.60) scale(1.0,1.085)" font-size="15.5" text-anchor="middle" letter-spacing="0.66">500</text>
<text transform="translate(174.65,225.60) scale(1.0,1.085)" font-size="15.5" text-anchor="middle" letter-spacing="0.66">1000</text>
<text transform="translate(226.46,225.60) scale(1.0,1.085)" font-size="15.5" text-anchor="middle" letter-spacing="0.66">1500</text>
<text transform="translate(278.27,225.60) scale(1.0,1.085)" font-size="15.5" text-anchor="middle" letter-spacing="0.66">2000</text>
<text transform="translate(330.08,225.60) scale(1.0,1.085)" font-size="15.5" text-anchor="middle" letter-spacing="0.66">2500</text>
<text transform="translate(381.89,225.60) scale(1.0,1.085)" font-size="15.5" text-anchor="middle" letter-spacing="0.66">3000</text>
<text transform="translate(165.60,250.10)" font-size="16" font-style="italic">m</text>
<text transform="translate(180.50,252.00) scale(1.0,1.03)" font-size="11.5">0</text>
<text transform="translate(191.00,251.70) scale(1.0,1.15)" font-size="16.5">=</text>
<text transform="translate(205.30,250.10)" font-size="16" font-style="italic">M</text>
<text transform="translate(220.60,252.00) scale(1.0,1.03)" font-size="11.5" letter-spacing="1.3">1/2</text>
<text transform="translate(242.80,249.70)" font-size="16">[</text>
<text transform="translate(248.60,249.70)" font-size="16">G</text>
<text transform="translate(260.60,249.70)" font-size="16">e</text>
<text transform="translate(269.40,249.70)" font-size="16">V</text>
<text transform="translate(280.80,249.70)" font-size="16">]</text>
<g transform="translate(13.3,114.5) rotate(-90)"><text x="0" y="0" font-size="14.6" font-style="italic">R</text><text x="9.2" y="3.6" font-size="12.3" font-style="italic">i</text></g>
</g>
</svg>
</body>
</html>
